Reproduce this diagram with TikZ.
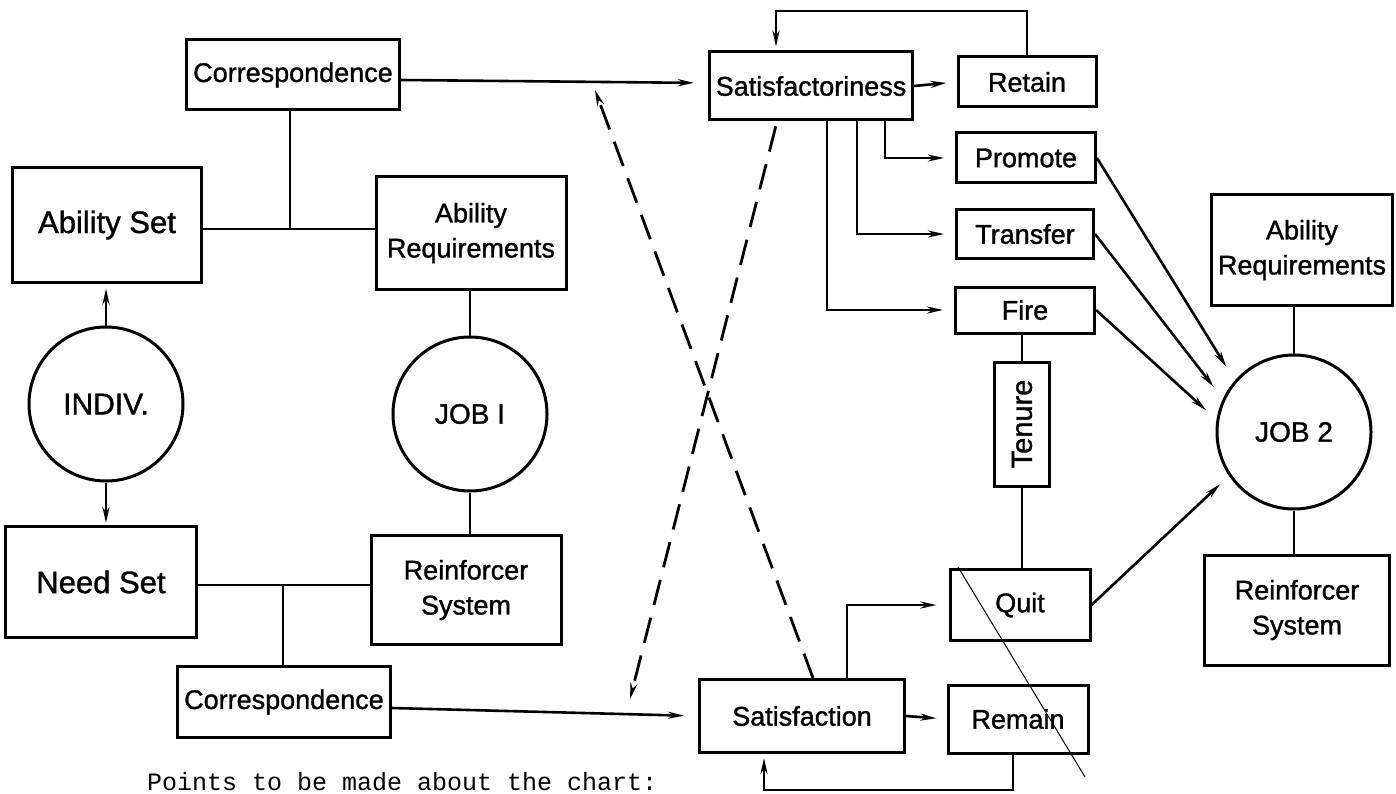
\documentclass[tikz,border=0pt]{standalone}
\usepackage{fontspec}
\setmainfont[FakeBold=1.2]{Liberation Sans}
\setmonofont{Liberation Mono}
\usetikzlibrary{arrows.meta}
\begin{document}
\begin{tikzpicture}[x=1pt,y=-1pt,
  box/.style={draw,line width=3pt,inner sep=0pt,align=center,font=\fontsize{27}{35}\selectfont},
  bigbox/.style={box,font=\fontsize{31}{37}\selectfont},
  circ/.style={draw,circle,line width=3pt,inner sep=0pt,minimum size=154pt,font=\fontsize{28}{34}\selectfont},
  conn/.style={line width=2.6pt},
  arr/.style={conn,-{Stealth[length=16pt,width=7pt]}},
  dashline/.style={line width=2.8pt,dash pattern=on 26pt off 13pt},
  stray/.style={line width=1pt}
]
\useasboundingbox (0,0) rectangle (1396,794);

% left part
\node[box,minimum width=213pt,minimum height=70pt] (corrA) at (293,75) {Correspondence};
\node[bigbox,minimum width=189pt,minimum height=114pt] (abset) at (107,225) {Ability Set};
\node[box,minimum width=190pt,minimum height=113pt] (abreq1) at (471,233) {Ability\\Requirements};
\node[circ,font=\fontsize{30}{34}\selectfont] (indiv) at (106,404) {INDIV.};
\node[circ] (job1) at (470,414) {JOB I};
\node[bigbox,minimum width=191pt,minimum height=111pt] (needset) at (101,582) {Need Set};
\node[box,minimum width=190pt,minimum height=109pt] (reinf1) at (466,590) {Reinforcer\\System};
\node[box,minimum width=213pt,minimum height=71pt] (corrB) at (284,702) {Correspondence};

% right part
\node[box,minimum width=203pt,minimum height=68pt] (sf) at (811,86) {Satisfactoriness};
\node[box,minimum width=138pt,minimum height=50pt] (retain) at (1027,82) {Retain};
\node[box,minimum width=139pt,minimum height=50pt] (promote) at (1026,158) {Promote};
\node[box,minimum width=137pt,minimum height=49pt] (transfer) at (1025,234) {Transfer};
\node[box,minimum width=139pt,minimum height=46pt] (fire) at (1025,310) {Fire};
\node[box,minimum width=55pt,minimum height=124pt,font=\fontsize{29}{35}\selectfont] (tenure) at (1022,424) {\rotatebox{90}{Tenure}};
\node[box,minimum width=140pt,minimum height=71pt] (quit) at (1020,605) {Quit};
\node[box,minimum width=205pt,minimum height=73pt] (satisf) at (802,716) {Satisfaction};
\node[box,minimum width=140pt,minimum height=68pt] (remain) at (1018,719) {Remain};
\node[box,minimum width=181pt,minimum height=111pt] (abreq2) at (1302,250) {Ability\\Requirements};
\node[circ] (job2) at (1294,432) {JOB 2};
\node[box,minimum width=185pt,minimum height=110pt] (reinf2) at (1297,610) {Reinforcer\\System};

\node[anchor=base west,inner sep=0pt,font=\ttfamily\fontsize{25}{30}\selectfont] (note) at (147,790) {Points to be made about the chart:};

% coordinates
\coordinate (j1) at (290,229);
\coordinate (j2) at (283,585);
\coordinate (tl) at (0,11);
\coordinate (bl) at (0,790);
\coordinate (d1) at (595,90);
\coordinate (d2) at (630,699);
\coordinate (s1) at (958,567);
\coordinate (s2) at (1085,777);

% left connectors
\draw[conn] (abset.east |- j1) -- (abreq1.west |- j1);
\draw[conn] (corrA.south -| j1) -- (j1);
\draw[arr,shorten >=5pt] (indiv.north) -- (indiv.north |- abset.south);
\draw[arr,shorten >=2pt] (indiv.south) -- (indiv.south |- needset.north);
\draw[conn] (abreq1.south -| job1) -- (job1.north);
\draw[conn] (job1.south) -- (job1.south |- reinf1.north);
\draw[conn] (needset.east |- j2) -- (reinf1.west |- j2);
\draw[conn] (j2) -- (j2 |- corrB.north);
\draw[arr,shorten >=14pt] ([yshift=-5pt]corrA.east) -- ([yshift=3pt]sf.west);
\draw[arr,shorten >=14pt] ([yshift=-6pt]corrB.east) -- (satisf.west);

% dashed crossing lines
\draw[dashline,-{Stealth[length=16pt,width=7pt]}] ([xshift=11pt]satisf.north) -- (d1);
\draw[dashline,-{Stealth[length=16pt,width=7pt]},shorten <=5pt] ([xshift=-34pt]sf.south) -- (d2);

% satisfactoriness branches
\draw[arr,shorten >=10pt] (sf.east) -- (retain.west);
\draw[arr,shorten >=11pt] ([xshift=74pt]sf.south) |- (promote.west);
\draw[arr,shorten >=11pt] ([xshift=46pt]sf.south) |- (transfer.west);
\draw[arr,shorten >=11pt] ([xshift=16pt]sf.south) |- (fire.west);
\draw[arr,shorten >=4pt] (retain.north) -- (retain.north |- tl) -- ([xshift=-35pt]sf.north |- tl) -- ([xshift=-35pt]sf.north);

% tenure
\draw[conn] (tenure.north |- fire.south) -- (tenure.north);
\draw[conn] (tenure.south) -- (tenure.south |- quit.north);

% to job 2
\draw[arr,shorten >=16pt] (promote.east) -- (job2.139);
\draw[arr,shorten >=15pt] (transfer.east) -- (job2.155);
\draw[arr,shorten >=14pt] (fire.east) -- (job2.171);
\draw[arr,shorten >=12pt] (quit.east) -- (job2.214);
\draw[conn] (abreq2.south -| job2) -- (job2.north);
\draw[conn] (job2.south) -- (job2.south |- reinf2.north);

% satisfaction branches
\draw[arr,shorten >=12pt] ([xshift=45pt]satisf.north) |- (quit.west);
\draw[arr,shorten >=10pt] (satisf.east) -- (remain.west);
\draw[arr,shorten >=4pt] ([xshift=-5pt]remain.south) -- ([xshift=-5pt]remain.south |- bl) -- ([xshift=-38pt]satisf.south |- bl) -- ([xshift=-38pt]satisf.south);

% stray pen stroke
\draw[stray] (s1) -- (s2);
\end{tikzpicture}
\end{document}
